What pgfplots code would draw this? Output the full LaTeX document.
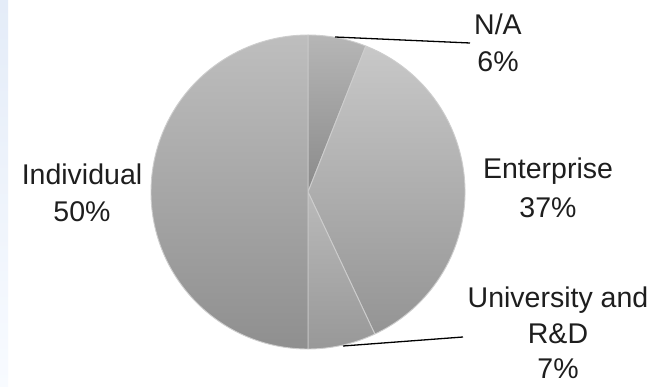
\documentclass[border=0pt]{standalone}
\usepackage{pgfplots}
\pgfplotsset{compat=1.18}
\usepackage{pgfplotstable}
\usepackage{fontspec}
\setmainfont{Liberation Sans}

\pgfplotstableread[col sep=comma]{
label,value
NA,6
Enterprise,37
University,7
Individual,50
}\piedata

\definecolor{indtop}{RGB}{190,190,190}
\definecolor{indbot}{RGB}{143,143,143}
\definecolor{natop}{RGB}{182,182,182}
\definecolor{nabot}{RGB}{138,138,138}
\definecolor{enttop}{RGB}{200,200,200}
\definecolor{entbot}{RGB}{148,148,148}
\definecolor{unitop}{RGB}{186,186,186}
\definecolor{unibot}{RGB}{152,152,152}
\definecolor{edge}{RGB}{205,205,205}
\definecolor{txt}{RGB}{30,30,30}
\definecolor{stripA}{RGB}{228,236,248}
\definecolor{stripB}{RGB}{248,251,255}

\pgfplotstablegetelem{0}{value}\of\piedata \pgfmathsetmacro{\vA}{\pgfplotsretval}
\pgfplotstablegetelem{1}{value}\of\piedata \pgfmathsetmacro{\vB}{\pgfplotsretval}
\pgfplotstablegetelem{2}{value}\of\piedata \pgfmathsetmacro{\vC}{\pgfplotsretval}
\pgfplotstablegetelem{3}{value}\of\piedata \pgfmathsetmacro{\vD}{\pgfplotsretval}
\pgfmathsetmacro{\aZero}{90}
\pgfmathsetmacro{\aOne}{\aZero-3.6*\vA}
\pgfmathsetmacro{\aTwo}{\aOne-3.6*\vB}
\pgfmathsetmacro{\aThree}{\aTwo-3.6*\vC}
\pgfmathsetmacro{\aFour}{\aThree-3.6*\vD}

\newcommand{\slice}[4]{%
  \path[top color=#3, bottom color=#4, draw=edge, line width=0.9pt, line join=round]
    (axis cs:308,192) -- ++(#1:157pt) arc[start angle=#1, end angle=#2, radius=157pt] -- cycle;}

\begin{document}
\begin{tikzpicture}
\begin{axis}[
  scale only axis, width=657pt, height=387pt,
  xmin=0, xmax=657, ymin=0, ymax=387, y dir=reverse,
  axis lines=none, clip=false,
]
\fill[white] (axis cs:0,0) rectangle (axis cs:657,387);
\path[top color=stripA, bottom color=stripB] (axis cs:0,0) rectangle (axis cs:8,387);
\slice{\aZero}{\aOne}{natop}{nabot}
\slice{\aOne}{\aTwo}{enttop}{entbot}
\slice{\aTwo}{\aThree}{unitop}{unibot}
\slice{\aThree}{\aFour}{indtop}{indbot}
\draw[black, line width=1.3pt] (axis cs:335,37) -- (axis cs:470,43);
\draw[black, line width=1.3pt] (axis cs:343,346) -- (axis cs:463,337);
\begin{scope}[every node/.style={anchor=base, text=txt, inner sep=0pt, font=\fontsize{28.5}{34}\selectfont}]
\node at (axis cs:498,35) {N/A};
\node at (axis cs:498,72) {6\%};
\node at (axis cs:548,179) {Enterprise};
\node at (axis cs:548,218) {37\%};
\node at (axis cs:558,308) {University and};
\node at (axis cs:558,344) {R\&D};
\node at (axis cs:558,379) {7\%};
\node at (axis cs:82,185) {Individual};
\node at (axis cs:82,222) {50\%};
\end{scope}
\end{axis}
\end{tikzpicture}
\end{document}
